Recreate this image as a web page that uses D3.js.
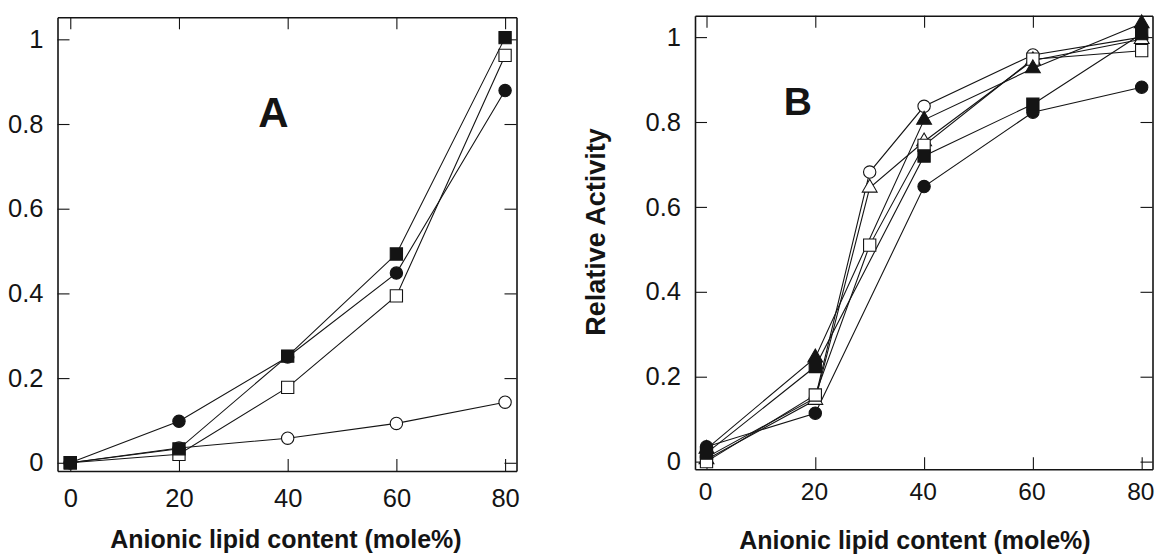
<!DOCTYPE html>
<html>
<head>
<meta charset="utf-8">
<script src="https://cdn.jsdelivr.net/npm/d3@7"></script>
<style>
  html, body { margin: 0; padding: 0; background: #fff; }
  svg { display: block; font-family: "Liberation Sans", Arial, Helvetica, sans-serif; }
</style>
</head>
<body>
<svg id="chart" width="1155" height="555"></svg>
<script>
// Shared axis ticks
const xTicks = [0, 20, 40, 60, 80];
const yTicks = [0, 0.2, 0.4, 0.6, 0.8, 1];
const yTickLabels = ["0", "0.2", "0.4", "0.6", "0.8", "1"];
const xTitle = "Anionic lipid content (mole%)";
const yTitleB = "Relative Activity";

// Panel A: relative activity vs anionic lipid content
const xA = [0, 20, 40, 60, 80];
const aOpenCircle   = [0, 0.035, 0.058, 0.093, 0.143];
const aOpenSquare   = [0, 0.020, 0.178, 0.394, 0.962];
const aFilledCircle = [0, 0.098, 0.250, 0.448, 0.879];
const aFilledSquare = [0, 0.033, 0.252, 0.493, 1.004];

// Panel B
const xB5 = [0, 20, 40, 60, 80];
const xB6 = [0, 20, 30, 40, 60, 80];
const bOpenCircle     = [0.010, 0.150, 0.682, 0.837, 0.958, 1.000];
const bOpenTriangle   = [0.005, 0.145, 0.645, 0.754, 0.945, 0.995];
const bOpenSquare     = [0.000, 0.157, 0.510, 0.745, 0.948, 0.968];
const bFilledCircle   = [0.035, 0.114, 0.648, 0.823, 0.882];
const bFilledSquare   = [0.020, 0.224, 0.720, 0.842, 1.008];
const bFilledTriangle = [0.030, 0.245, 0.805, 0.926, 1.032];

const svg = d3.select("#chart");
const INK = "#141414";

function zip(xs, ys) { return xs.map((x, i) => ({ x: x, y: ys[i] })); }

function drawPanel(p) {
  const x = d3.scaleLinear().domain(p.xDomain).range([p.left, p.right]);
  const y = d3.scaleLinear().domain(p.yDomain).range([p.bottom, p.top]);
  const g = svg.append("g");

  // frame + inward ticks on all four sides
  const tick = 12;
  const left = g.append("g").attr("transform", `translate(${p.left},0)`)
    .call(d3.axisLeft(y).tickValues(yTicks).tickFormat((d, i) => yTickLabels[i])
      .tickSizeInner(-tick).tickSizeOuter(0).tickPadding(14));
  const bottom = g.append("g").attr("transform", `translate(0,${p.bottom})`)
    .call(d3.axisBottom(x).tickValues(xTicks).tickFormat(d3.format("d"))
      .tickSizeInner(-tick).tickSizeOuter(0).tickPadding(p.xLabelPad));
  const right = g.append("g").attr("transform", `translate(${p.right},0)`)
    .call(d3.axisRight(y).tickValues(yTicks).tickFormat("")
      .tickSizeInner(-tick).tickSizeOuter(0));
  const top = g.append("g").attr("transform", `translate(0,${p.top})`)
    .call(d3.axisTop(x).tickValues(xTicks).tickFormat("")
      .tickSizeInner(-tick).tickSizeOuter(0));

  [left, bottom, right, top].forEach(a => {
    a.select(".domain").attr("stroke", INK).attr("stroke-width", 1.6);
    a.selectAll(".tick line").attr("stroke", INK).attr("stroke-width", 1.1);
    a.selectAll("text").attr("fill", INK).attr("font-family", null);
  });
  left.selectAll("text").attr("font-size", 25.5);
  bottom.selectAll("text").attr("font-size", p.xLabelSize).attr("dx", p.xLabelShift);

  const line = d3.line().x(d => x(d.x)).y(d => y(d.y));

  p.series.forEach(s => {
    const pts = zip(s.x, s.y);
    g.append("path").datum(pts)
      .attr("fill", "none").attr("stroke", INK).attr("stroke-width", 1.1)
      .attr("d", line);
  });

  const symType = { circle: d3.symbolCircle, square: d3.symbolSquare, triangle: d3.symbolTriangle };
  const symSize = { circle: 120, square: 150, triangle: 95 };
  p.series.forEach(s => {
    const pts = zip(s.x, s.y);
    const sym = d3.symbol().type(symType[s.shape]).size(symSize[s.shape]);
    g.append("g").selectAll("path").data(pts).join("path")
      .attr("transform", d => `translate(${x(d.x)},${y(d.y)})`)
      .attr("d", sym)
      .attr("fill", s.filled ? INK : "#fff")
      .attr("stroke", INK)
      .attr("stroke-width", 1.1);
  });

  // panel letter
  g.append("text")
    .attr("x", x(p.letterAt[0])).attr("y", y(p.letterAt[1]))
    .attr("font-size", p.letterSize).attr("font-weight", "bold").attr("fill", INK)
    .text(p.letter);

  // x title
  g.append("text")
    .attr("x", p.xTitleX).attr("y", p.xTitleY)
    .attr("text-anchor", "middle")
    .attr("font-size", 25).attr("font-weight", "bold").attr("fill", INK)
    .text(xTitle);

  if (p.yTitle) {
    g.append("text")
      .attr("transform", `translate(${p.yTitleX},${p.yTitleY}) rotate(-90)`)
      .attr("text-anchor", "middle")
      .attr("font-size", 27).attr("font-weight", "bold").attr("fill", INK)
      .text(p.yTitle);
  }
}

drawPanel({
  left: 57.5, right: 516.5, top: 17.3, bottom: 471,
  xDomain: [-2.35, 82.1], yDomain: [-0.0194, 1.052],
  xLabelPad: 17.5, xLabelSize: 25.5, xLabelShift: 0,
  letter: "A", letterAt: [34.6, 0.793], letterSize: 42,
  xTitleX: 286, xTitleY: 548,
  series: [
    { x: xA, y: aOpenCircle,   shape: "circle", filled: false },
    { x: xA, y: aOpenSquare,   shape: "square", filled: false },
    { x: xA, y: aFilledCircle, shape: "circle", filled: true },
    { x: xA, y: aFilledSquare, shape: "square", filled: true }
  ]
});

drawPanel({
  left: 695, right: 1152.5, top: 15.7, bottom: 469.3,
  xDomain: [-2.114, 81.99], yDomain: [-0.0181, 1.0504],
  xLabelPad: 13, xLabelSize: 24.5, xLabelShift: -1.4,
  letter: "B", letterAt: [14.2, 0.817], letterSize: 39,
  xTitleX: 915, xTitleY: 549,
  yTitle: yTitleB, yTitleX: 604.5, yTitleY: 232,
  series: [
    { x: xB6, y: bOpenCircle,     shape: "circle",   filled: false },
    { x: xB6, y: bOpenTriangle,   shape: "triangle", filled: false },
    { x: xB6, y: bOpenSquare,     shape: "square",   filled: false },
    { x: xB5, y: bFilledCircle,   shape: "circle",   filled: true },
    { x: xB5, y: bFilledSquare,   shape: "square",   filled: true },
    { x: xB5, y: bFilledTriangle, shape: "triangle", filled: true }
  ]
});
</script>
</body>
</html>
